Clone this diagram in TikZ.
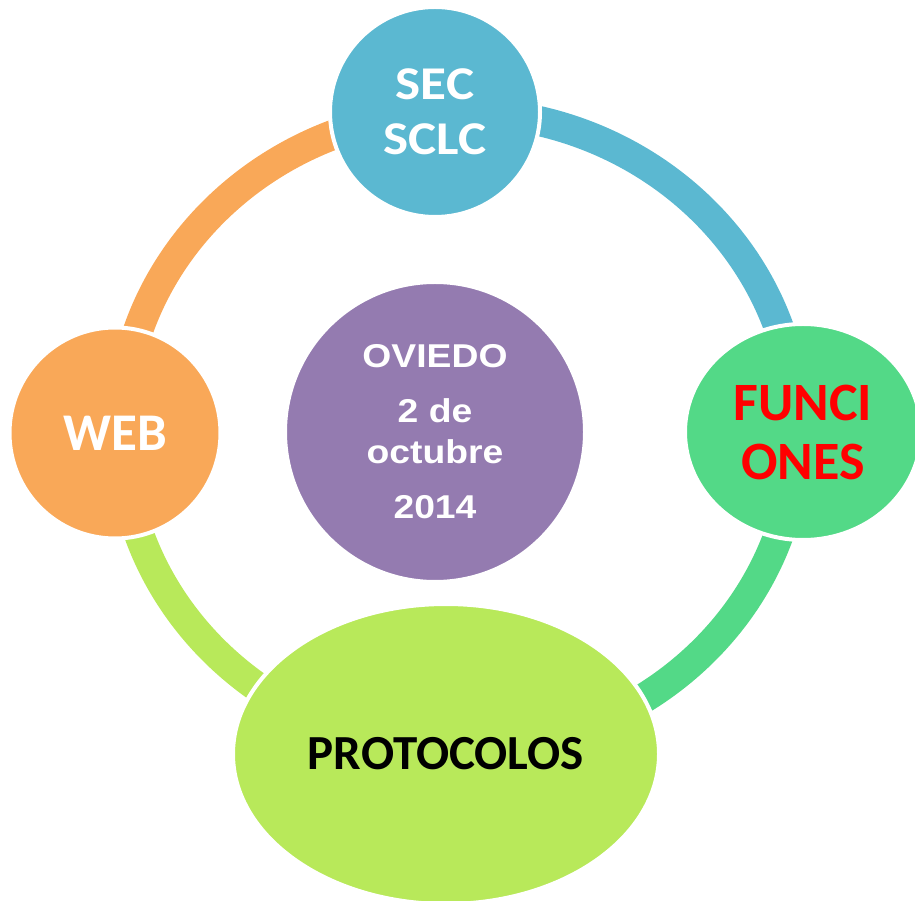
\documentclass[tikz,border=0pt]{standalone}
\usepackage{fontspec}
\setmainfont{Carlito}
\newfontfamily\anchafont[FakeStretch=1.13]{Carlito}
\newfontfamily\arialfont[FakeStretch=1.13]{Liberation Sans}
\usetikzlibrary{shapes.geometric}
\definecolor{azul}{RGB}{91,184,209}
\definecolor{naranja}{RGB}{249,168,88}
\definecolor{morado}{RGB}{148,123,176}
\definecolor{verde}{RGB}{83,217,135}
\definecolor{lima}{RGB}{184,233,90}
\definecolor{rojo}{RGB}{255,0,0}

\begin{document}
\begin{tikzpicture}[x=1pt,y=1pt,
  bola/.style={circle,draw=white,line width=4pt,inner sep=0pt,align=center},
  huevo/.style={ellipse,draw=white,line width=4pt,inner sep=0pt,align=center},
  aro/.style={line width=30pt}]
\useasboundingbox (0,0) rectangle (915,900);
\coordinate (centro) at (459,469);
% el anillo
\draw [aro,naranja] (centro) ++(180:338 and 319) arc (180:90:338 and 319);
\draw [aro,azul] (centro) ++(90:338 and 319) arc (90:0:338 and 319);
\draw [aro,verde] (centro) ++(0:338 and 319) arc (360:270:338 and 319);
\draw [aro,lima] (centro) ++(270:338 and 319) arc (270:180:338 and 319);
% los nodos
\node [bola,fill=azul,minimum size=210pt,text=white,font=\anchafont\fontsize{47}{55}\bfseries\selectfont] (sec) at (435,788) {SEC\\SCLC};
\node [bola,fill=naranja,minimum size=211pt,text=white,font=\fontsize{53}{60}\bfseries\selectfont] (web) at (115,467) {WEB};
\node [huevo,fill=verde,minimum width=236pt,minimum height=216pt,text=rojo,font=\fontsize{54}{59}\bfseries\selectfont] (funciones) at (803,468) {FUNCI\\ONES};
\node [huevo,fill=lima,minimum width=426pt,minimum height=300pt,text=black,font=\fontsize{49}{56}\bfseries\selectfont] (protocolos) at (446,146) {PROTOCOLOS};
\node [bola,fill=morado,minimum size=300pt,text=white,font=\arialfont\bfseries\fontsize{33}{41}\selectfont] (oviedo) at (435,468) {OVIEDO\\[14pt]2 de\\octubre\\[14pt]2014};
\end{tikzpicture}
\end{document}
